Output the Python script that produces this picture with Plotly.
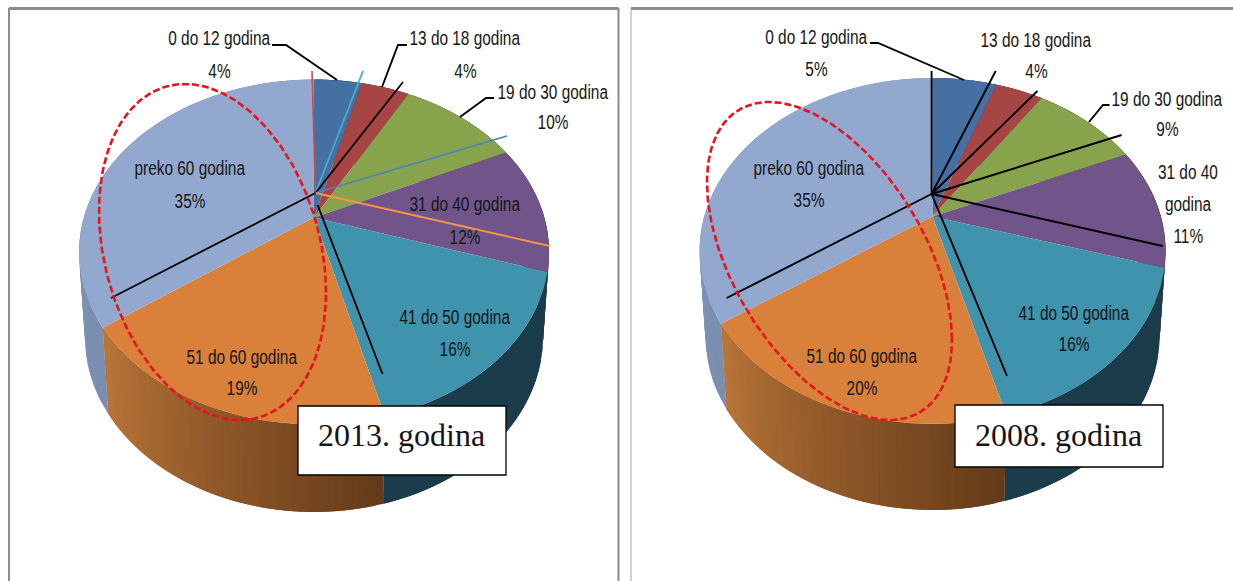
import numpy as np
import plotly.graph_objects as go

categories = ["0 do 12 godina", "13 do 18 godina", "19 do 30 godina", "31 do 40 godina",
              "41 do 50 godina", "51 do 60 godina", "preko 60 godina"]
# the labels are rounded, the slices show a bit more than that
values_2013 = [4, 4, 10, 12, 16, 19, 35]
values_2008 = [5.4, 4.0, 9.0, 11.3, 16.1, 19.5, 34.7]

top_colors = ["#4470a3", "#a64543", "#87a34c", "#71558a", "#4093ad", "#d9803a", "#93a8cf"]
wall_left = ["#2f4f75", "#743030", "#5f7235", "#382a48", "#1b3c4a", "#bb7739", "#8b9dc1"]
wall_right = ["#2f4f75", "#743030", "#5f7235", "#382a48", "#1b3c4a", "#643a19", "#7a8eb0"]

TILT = 0.2  # how far the pie apex sits above the middle of the ellipse
LABEL_FONT = "Liberation Sans"
LABEL_SIZE = 20
LABEL_SQUEEZE = 0.77  # the labels in the picture are squeezed sideways
ELLIPSE_SEGMENTS = 40

fig = go.Figure()


def rim(angle, cx, cy, rx, ry):
    # perspective: straight slice edges stay straight, the centre moves to the apex
    u, v = np.sin(angle), -np.cos(angle)
    d = 1 - TILT * v
    return cx + rx * u * np.sqrt(1 - TILT ** 2) / d, cy + ry * (v - TILT) / d


def hex_mix(a, b, f):
    ca = [int(a[i:i + 2], 16) for i in (1, 3, 5)]
    cb = [int(b[i:i + 2], 16) for i in (1, 3, 5)]
    return "rgb(%d,%d,%d)" % tuple(round(x + (y - x) * f) for x, y in zip(ca, cb))


def poly(xs, ys, color):
    fig.add_trace(go.Scatter(x=list(xs), y=list(ys), mode="lines", fill="toself", fillcolor=color,
                             line=dict(color=color, width=0), hoverinfo="skip", showlegend=False))


def line(xs, ys, color="#000000", width=2.0, dash=None):
    fig.add_trace(go.Scatter(x=xs, y=ys, mode="lines", line=dict(color=color, width=width, dash=dash),
                             hoverinfo="skip", showlegend=False))


def draw_pie(values, top, bottom):
    edges = 2 * np.pi * np.cumsum([0] + values) / sum(values)
    # side wall first, the top face covers whatever faces backwards
    for i in range(len(values)):
        steps = np.linspace(edges[i], edges[i + 1], ELLIPSE_SEGMENTS + 1)
        for k in range(ELLIPSE_SEGMENTS):
            # each strip runs under the next one so no seams show
            a = steps[k:k + 3]
            tx, ty = rim(a, *top)
            bx, by = rim(a, *bottom)
            poly(np.r_[tx, bx[::-1]], np.r_[ty, by[::-1]],
                 hex_mix(wall_right[i], wall_left[i], k / ELLIPSE_SEGMENTS))
    # the top face, from the apex to the rim
    apex_x, apex_y = top[0], top[1] - TILT * top[3]
    for i in range(len(values)):
        a = np.linspace(edges[i], edges[i + 1], 60)
        x, y = rim(a, *top)
        poly(np.r_[apex_x, x], np.r_[apex_y, y], top_colors[i])


def dashed_ellipse(cx, cy, half_w, half_h, rho):
    t = np.linspace(0, 2 * np.pi, 200)
    delta = np.arccos(rho)
    line(cx + half_w * np.cos(t), cy + half_h * np.cos(t + delta), "#e8141c", 2.6, "7px,3px")


def label(text, x, y, size=LABEL_SIZE, font=LABEL_FONT):
    fig.add_annotation(x=x, y=y, text=text, showarrow=False, xanchor="center", yanchor="middle",
                       font=dict(family=font, size=size, color="#151515"))


draw_pie(values_2013, (314, 252, 235, 172.5), (314, 337, 229, 175))
draw_pie(values_2008, (932.5, 251, 233, 173), (932.5, 336, 227, 174))

# lines drawn over the left pie
APEX_L = (315.5, 193)
for end, color, w in [((312, 71), "#c0504d", 1.6), ((363, 71), "#4bacc6", 1.8), ((403, 82), "#000000", 1.8),
                      ((507, 136), "#4f81bd", 1.8), ((549.6, 246), "#f79646", 1.8), ((111, 298), "#000000", 1.8)]:
    line([APEX_L[0], end[0]], [APEX_L[1], end[1]], color, w)
line([317.6, 382.5], [205, 374], "#000000", 1.8)

# and over the right one
APEX_R = (931.6, 194)
for end in [(931.6, 71), (995.7, 71), (1037.5, 91), (1121.6, 135), (1162.6, 246), (726.7, 298), (1007, 376)]:
    line([APEX_R[0], end[0]], [APEX_R[1], end[1]], "#000000", 1.9)

# leader lines
line([272, 286, 337], [45, 45, 80], width=1.9)
line([407, 398, 382], [45, 45, 87], width=1.9)
line([494, 486, 460], [98, 98, 117], width=1.9)
line([870, 878, 964], [43, 43, 80], width=1.9)
line([1109.5, 1103, 1089], [105, 105, 122], width=1.9)

dashed_ellipse(212.5, 252, 113.5, 168, 0.242)
dashed_ellipse(829.5, 261, 122.5, 159, 0.494)

# label centres, same order as the categories
label_x_l = [219, 465, 553, 465, 454.5, 242, 190]
label_y_l = [38, 38, 92, 204, 317, 357, 168]
pct_y_l = [71, 71, 122, 237, 349, 388, 201]
for i, name in enumerate(categories):
    label(name, label_x_l[i], label_y_l[i])
    label("%d%%" % round(values_2013[i]), label_x_l[i], pct_y_l[i])

label_x_r = [816, 1036, 1167, 1188, 1074, 862, 809]
label_y_r = [37, 40, 99, 172, 313, 356, 168]
pct_y_r = [69, 71, 129, 236, 344, 388, 200]
for i, name in enumerate(categories):
    if i == 3:
        # this one wraps in the 2008 chart
        label("31 do 40", label_x_r[i], label_y_r[i])
        label("godina", label_x_r[i], 204)
    else:
        label(name, label_x_r[i], label_y_r[i])
    label("%d%%" % round(values_2008[i]), label_x_r[i], pct_y_r[i])

# panel frames and the year boxes
shapes = [
    dict(type="line", x0=9, x1=618.5, y0=8.5, y1=8.5, line=dict(color="#8c8c8c", width=3)),
    dict(type="line", x0=9, x1=9, y0=8, y1=581, line=dict(color="#8c8c8c", width=2)),
    dict(type="line", x0=618.5, x1=618.5, y0=8, y1=581, line=dict(color="#8c8c8c", width=2)),
    dict(type="line", x0=631, x1=1233, y0=8.5, y1=8.5, line=dict(color="#8c8c8c", width=3)),
    dict(type="line", x0=631, x1=631, y0=8, y1=581, line=dict(color="#a0a0a0", width=1)),
    dict(type="rect", x0=298, x1=506, y0=406, y1=475, fillcolor="#ffffff", line=dict(color="#000000", width=1.3),
         layer="above"),
    dict(type="rect", x0=955, x1=1163, y0=405, y1=467, fillcolor="#ffffff", line=dict(color="#000000", width=1.3),
         layer="above"),
]
label("2013. godina", 401.5, 435, 32, "Liberation Serif")
label("2008. godina", 1058.5, 435, 32, "Liberation Serif")

fig.update_layout(
    width=1233,
    height=581,
    margin=dict(l=0, r=0, t=0, b=0),
    paper_bgcolor="#ffffff",
    plot_bgcolor="#ffffff",
    shapes=shapes,
    xaxis=dict(range=[0, 1233], visible=False, fixedrange=True),
    yaxis=dict(range=[581, 0], visible=False, fixedrange=True),
)

squeeze_js = """
document.body.style.margin = '0';
document.querySelectorAll('.annotation-text').forEach(function (t) {
    if (t.style.fontFamily.indexOf('Sans') >= 0) {
        t.setAttribute('textLength', t.getComputedTextLength() * %s);
        t.setAttribute('lengthAdjust', 'spacingAndGlyphs');
    }
});
""" % LABEL_SQUEEZE

fig.write_html("out.html", post_script=squeeze_js, config=dict(displayModeBar=False))
